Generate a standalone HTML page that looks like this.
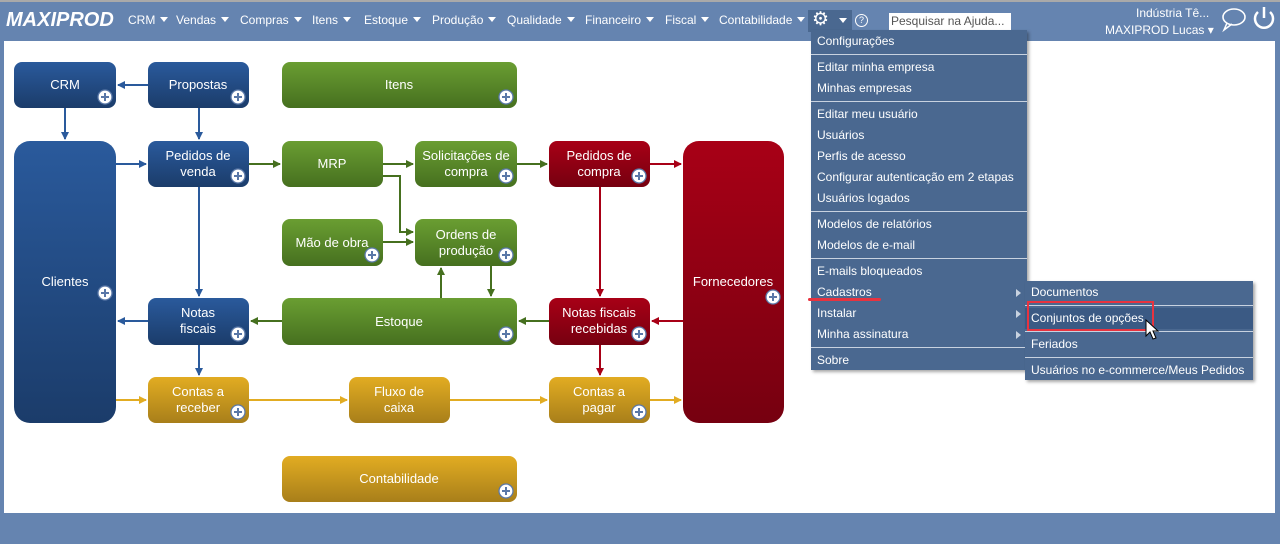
<!DOCTYPE html>
<html><head><meta charset="utf-8"><style>
body{margin:0;width:1280px;height:544px;overflow:hidden;background:#6584b0;font-family:"Liberation Sans",Arial,sans-serif;position:relative}
.top{position:absolute;left:0;top:0;width:1280px;height:2px;background:#a9a9a9}
.logo{position:absolute;left:6px;top:9px;font-size:20px;font-weight:bold;font-style:italic;color:#fff}
.nav{position:absolute;top:13px;font-size:12px;color:#fff;white-space:nowrap}
.n{position:absolute;top:13px;font-size:12px;color:#fff;white-space:nowrap}
.n:after{content:"";display:inline-block;margin-left:5px;vertical-align:2px;border-top:5px solid #fff;border-left:4px solid transparent;border-right:4px solid transparent}
.page{position:absolute;left:4px;top:41px;width:1271px;height:472px;background:#fff}
.menu{position:absolute;background:#4a6890;color:#fff;font-size:12px;box-shadow:2px 2px 3px rgba(0,0,0,.35)}
.menu div.i{height:21px;line-height:21px;padding-left:6px;position:relative}
.menu div.s{height:1px;background:#c8d2e0;margin:2px 0}
.arr{position:absolute;right:6px;top:7px;width:0;height:0;border-left:5px solid #c8d2e0;border-top:4px solid transparent;border-bottom:4px solid transparent}
svg text{font-family:"Liberation Sans",Arial,sans-serif;font-size:13px;fill:#fff;text-anchor:middle}
</style></head><body>
<div class="top"></div>
<div class="logo">MAXIPROD</div>
<div class="n" style="left:128px">CRM</div>
<div class="n" style="left:176px">Vendas</div>
<div class="n" style="left:240px">Compras</div>
<div class="n" style="left:312px">Itens</div>
<div class="n" style="left:364px">Estoque</div>
<div class="n" style="left:432px">Produção</div>
<div class="n" style="left:507px">Qualidade</div>
<div class="n" style="left:585px">Financeiro</div>
<div class="n" style="left:665px">Fiscal</div>
<div class="n" style="left:719px">Contabilidade</div>
<div style="position:absolute;left:808px;top:10px;width:44px;height:22px;background:#4a6890"></div>
<div style="position:absolute;left:812px;top:8px;color:#fff;font-size:19px">⚙</div>
<div style="position:absolute;left:839px;top:18px;border-top:5px solid #fff;border-left:4px solid transparent;border-right:4px solid transparent"></div>
<div style="position:absolute;left:855px;top:14px;width:11px;height:11px;border:1.5px solid #fff;border-radius:50%;color:#fff;font-size:9px;line-height:11px;text-align:center">?</div>
<div style="position:absolute;left:889px;top:13px;width:122px;height:17px;background:#fff;font-size:12px;color:#555;line-height:17px;padding-left:2px;box-sizing:border-box">Pesquisar na Ajuda...</div>
<div class="nav" style="left:1136px;top:6px">Indústria Tê...</div>
<div class="nav" style="left:1105px;top:23px">MAXIPROD Lucas ▾</div>
<svg style="position:absolute;left:1220px;top:5px" width="60" height="30"><ellipse cx="14" cy="12" rx="11" ry="8" fill="none" stroke="#fff" stroke-width="1.6"/><path d="M7 18 L4 25 L12 19" fill="none" stroke="#fff" stroke-width="1.5"/><path d="M38 7 A9 9 0 1 0 50 7" fill="none" stroke="#fff" stroke-width="2.5"/><line x1="44" y1="2" x2="44" y2="13" stroke="#fff" stroke-width="2.5"/></svg>
<div class="page"></div>
<svg style="position:absolute;left:0;top:0" width="1280" height="544">
<defs>
<linearGradient id="gb" x1="0" y1="0" x2="0" y2="1"><stop offset="0" stop-color="#2a5a9c"/><stop offset="1" stop-color="#1b3c6a"/></linearGradient>
<linearGradient id="gg" x1="0" y1="0" x2="0" y2="1"><stop offset="0" stop-color="#6a9e32"/><stop offset="1" stop-color="#46701f"/></linearGradient>
<linearGradient id="gr" x1="0" y1="0" x2="0" y2="1"><stop offset="0" stop-color="#a80016"/><stop offset="1" stop-color="#760010"/></linearGradient>
<linearGradient id="gy" x1="0" y1="0" x2="0" y2="1"><stop offset="0" stop-color="#e2ac22"/><stop offset="1" stop-color="#a87f1a"/></linearGradient>
<marker id="mb" markerWidth="8" markerHeight="8" refX="7" refY="4" orient="auto" markerUnits="userSpaceOnUse"><path d="M0 0L8 4L0 8z" fill="#2a5a9c"/></marker>
<marker id="mg" markerWidth="8" markerHeight="8" refX="7" refY="4" orient="auto" markerUnits="userSpaceOnUse"><path d="M0 0L8 4L0 8z" fill="#46701f"/></marker>
<marker id="mr" markerWidth="8" markerHeight="8" refX="7" refY="4" orient="auto" markerUnits="userSpaceOnUse"><path d="M0 0L8 4L0 8z" fill="#a80016"/></marker>
<marker id="my" markerWidth="8" markerHeight="8" refX="7" refY="4" orient="auto" markerUnits="userSpaceOnUse"><path d="M0 0L8 4L0 8z" fill="#e2ac22"/></marker>
<g id="pl"><circle r="7" fill="#fff" stroke="#5a78a8" stroke-width="1.3"/><path d="M-4 0H4M0 -4V4" stroke="#5a78a8" stroke-width="2"/></g>
</defs>
<g stroke-width="2" fill="none">
<path d="M148 85H118" stroke="#2a5a9c" marker-end="url(#mb)"/>
<path d="M65 108V139" stroke="#2a5a9c" marker-end="url(#mb)"/>
<path d="M199 108V139" stroke="#2a5a9c" marker-end="url(#mb)"/>
<path d="M116 164H146" stroke="#2a5a9c" marker-end="url(#mb)"/>
<path d="M199 187V296" stroke="#2a5a9c" marker-end="url(#mb)"/>
<path d="M148 321H118" stroke="#2a5a9c" marker-end="url(#mb)"/>
<path d="M199 345V375" stroke="#2a5a9c" marker-end="url(#mb)"/>
<path d="M249 164H280" stroke="#46701f" marker-end="url(#mg)"/>
<path d="M383 164H413" stroke="#46701f" marker-end="url(#mg)"/>
<path d="M517 164H547" stroke="#46701f" marker-end="url(#mg)"/>
<path d="M383 176H400V232H413" stroke="#46701f" marker-end="url(#mg)"/>
<path d="M383 242H413" stroke="#46701f" marker-end="url(#mg)"/>
<path d="M441 298V268" stroke="#46701f" marker-end="url(#mg)"/>
<path d="M491 266V296" stroke="#46701f" marker-end="url(#mg)"/>
<path d="M282 321H251" stroke="#46701f" marker-end="url(#mg)"/>
<path d="M549 321H519" stroke="#46701f" marker-end="url(#mg)"/>
<path d="M650 164H681" stroke="#a80016" marker-end="url(#mr)"/>
<path d="M600 187V296" stroke="#a80016" marker-end="url(#mr)"/>
<path d="M683 321H652" stroke="#a80016" marker-end="url(#mr)"/>
<path d="M600 345V375" stroke="#a80016" marker-end="url(#mr)"/>
<path d="M116 400H146" stroke="#e2ac22" marker-end="url(#my)"/>
<path d="M249 400H347" stroke="#e2ac22" marker-end="url(#my)"/>
<path d="M450 400H547" stroke="#e2ac22" marker-end="url(#my)"/>
<path d="M650 400H681" stroke="#e2ac22" marker-end="url(#my)"/>
</g>
<rect x="14" y="62" width="102" height="46" rx="8" fill="url(#gb)"/><text x="65" y="89">CRM</text><use href="#pl" x="105" y="97"/>
<rect x="148" y="62" width="101" height="46" rx="8" fill="url(#gb)"/><text x="198" y="89">Propostas</text><use href="#pl" x="238" y="97"/>
<rect x="282" y="62" width="235" height="46" rx="8" fill="url(#gg)"/><text x="399" y="89">Itens</text><use href="#pl" x="506" y="97"/>
<rect x="14" y="141" width="102" height="282" rx="16" fill="url(#gb)"/><text x="65" y="286">Clientes</text><use href="#pl" x="105" y="293"/>
<rect x="148" y="141" width="101" height="46" rx="8" fill="url(#gb)"/><text x="198" y="160">Pedidos de</text><text x="198" y="176">venda</text><use href="#pl" x="238" y="176"/>
<rect x="282" y="141" width="101" height="46" rx="8" fill="url(#gg)"/><text x="332" y="168">MRP</text>
<rect x="415" y="141" width="102" height="46" rx="8" fill="url(#gg)"/><text x="466" y="160">Solicitações de</text><text x="466" y="176">compra</text><use href="#pl" x="506" y="176"/>
<rect x="549" y="141" width="101" height="46" rx="8" fill="url(#gr)"/><text x="599" y="160">Pedidos de</text><text x="599" y="176">compra</text><use href="#pl" x="639" y="176"/>
<rect x="683" y="141" width="101" height="282" rx="16" fill="url(#gr)"/><text x="733" y="286">Fornecedores</text><use href="#pl" x="773" y="297"/>
<rect x="282" y="219" width="101" height="47" rx="8" fill="url(#gg)"/><text x="332" y="247">Mão de obra</text><use href="#pl" x="372" y="255"/>
<rect x="415" y="219" width="102" height="47" rx="8" fill="url(#gg)"/><text x="466" y="239">Ordens de</text><text x="466" y="255">produção</text><use href="#pl" x="506" y="255"/>
<rect x="148" y="298" width="101" height="47" rx="8" fill="url(#gb)"/><text x="198" y="317">Notas</text><text x="198" y="333">fiscais</text><use href="#pl" x="238" y="334"/>
<rect x="282" y="298" width="235" height="47" rx="8" fill="url(#gg)"/><text x="399" y="326">Estoque</text><use href="#pl" x="506" y="334"/>
<rect x="549" y="298" width="101" height="47" rx="8" fill="url(#gr)"/><text x="599" y="317">Notas fiscais</text><text x="599" y="333">recebidas</text><use href="#pl" x="639" y="334"/>
<rect x="148" y="377" width="101" height="46" rx="8" fill="url(#gy)"/><text x="198" y="396">Contas a</text><text x="198" y="412">receber</text><use href="#pl" x="238" y="412"/>
<rect x="349" y="377" width="101" height="46" rx="8" fill="url(#gy)"/><text x="399" y="396">Fluxo de</text><text x="399" y="412">caixa</text>
<rect x="549" y="377" width="101" height="46" rx="8" fill="url(#gy)"/><text x="599" y="396">Contas a</text><text x="599" y="412">pagar</text><use href="#pl" x="639" y="412"/>
<rect x="282" y="456" width="235" height="46" rx="8" fill="url(#gy)"/><text x="399" y="483">Contabilidade</text><use href="#pl" x="506" y="491"/>
</svg>
<div class="menu" style="left:811px;top:30px;width:216px;height:340px;padding-top:1px;box-sizing:border-box">
<div class="i">Configurações</div><div class="s"></div>
<div class="i">Editar minha empresa</div><div class="i">Minhas empresas</div><div class="s"></div>
<div class="i">Editar meu usuário</div><div class="i">Usuários</div><div class="i">Perfis de acesso</div><div class="i">Configurar autenticação em 2 etapas</div><div class="i">Usuários logados</div><div class="s"></div>
<div class="i">Modelos de relatórios</div><div class="i">Modelos de e-mail</div><div class="s"></div>
<div class="i">E-mails bloqueados</div><div class="i">Cadastros<span class="arr"></span></div><div class="i">Instalar<span class="arr"></span></div><div class="i">Minha assinatura<span class="arr"></span></div><div class="s"></div>
<div class="i">Sobre</div>
</div>
<div style="position:absolute;left:808px;top:298px;width:73px;height:3px;background:#e8333f;border-radius:2px"></div>
<div class="menu" style="left:1025px;top:281px;width:228px;height:99px;padding-top:1px;box-sizing:border-box">
<div class="i">Documentos</div><div class="s"></div>
<div class="i" style="background:#3b5a84">Conjuntos de opções</div><div class="s"></div>
<div class="i">Feriados</div><div class="s"></div>
<div class="i">Usuários no e-commerce/Meus Pedidos</div>
</div>
<div style="position:absolute;left:1027px;top:301px;width:127px;height:30px;border:2px solid #e8333f;box-sizing:border-box"></div>
<svg style="position:absolute;left:1145px;top:319px" width="16" height="22"><path d="M1 1V17L5 13L8 20L11 19L8 12L13 12Z" fill="#fff" stroke="#000" stroke-width="1"/></svg>
</body></html>
